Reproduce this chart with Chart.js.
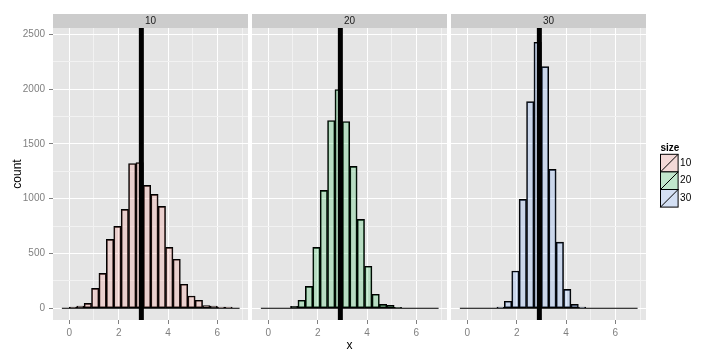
<!DOCTYPE html>
<html>
<head>
<meta charset="utf-8">
<script src="https://cdn.jsdelivr.net/npm/chart.js@4/dist/chart.umd.min.js"></script>
<style>
  body { margin: 0; background: #fff; }
  #wrap { position: relative; width: 720px; height: 360px; }
  #wrap canvas { position: absolute; top: 0; }
</style>
</head>
<body>
<div id="wrap">
  <canvas id="c10" width="248" height="360" style="left:0px"></canvas>
  <canvas id="c20" width="195" height="360" style="left:252px"></canvas>
  <canvas id="c30" width="269" height="360" style="left:451px"></canvas>
</div>
<script>
// Histogram data (binwidth 0.3)
const binCenters = [-0.15, 0.15, 0.45, 0.75, 1.05, 1.35, 1.65, 1.95, 2.25, 2.55, 2.85, 3.15,
                    3.45, 3.75, 4.05, 4.35, 4.65, 4.95, 5.25, 5.55, 5.85, 6.15, 6.45, 6.75];
const count10 = [0, 10, 20, 45, 182, 319, 629, 747, 902, 1321, 1330, 1121,
                 1039, 930, 556, 447, 219, 112, 73, 24, 21, 12, 12, 0];
const count20 = [0, 0, 0, 0, 18, 73, 200, 556, 1075, 1713, 1996, 1704,
                 1294, 811, 383, 128, 36, 27, 9, 0, 0, 0, 0, 0];
const count30 = [0, 0, 0, 0, 0, 12, 64, 340, 993, 1886, 2427, 2205,
                 1267, 604, 173, 36, 12, 0, 0, 0, 0, 0, 0, 0];
const sizes = ['10', '20', '30'];
const binRange = [-0.3, 6.9];
const meanX = 2.92;

// Axis ticks
const xTicks = [0, 1, 2, 3, 4, 5, 6, 7];
const xLabels = [0, 2, 4, 6];
const yTicks = [0, 250, 500, 750, 1000, 1250, 1500, 1750, 2000, 2250, 2500];
const yLabels = [0, 500, 1000, 1500, 2000, 2500];
const xMin = -0.66, xMax = 7.24;
const yMin = -107, yMax = 2557;

const fills = ['rgba(248,118,109,0.2)', 'rgba(0,186,56,0.2)', 'rgba(97,156,255,0.2)'];

Chart.defaults.font.family = "'Liberation Sans', Arial, sans-serif";
Chart.defaults.font.size = 10;

// Grey panel background + facet strip
const panelPlugin = {
    id: 'panel',
    beforeDraw(chart, args, opts) {
        const ctx = chart.ctx;
        const a = chart.chartArea;
        ctx.save();
        ctx.fillStyle = '#E5E5E5';
        ctx.fillRect(a.left, a.top, a.right - a.left, a.bottom - a.top);
        ctx.fillStyle = '#CCCCCC';
        ctx.fillRect(a.left, 14, a.right - a.left, a.top - 14);
        ctx.fillStyle = '#1A1A1A';
        ctx.font = "10px 'Liberation Sans', Arial, sans-serif";
        ctx.textAlign = 'center';
        ctx.textBaseline = 'middle';
        ctx.fillText(opts.label, (a.left + a.right) / 2, (14 + a.top) / 2 + 0.5);
        ctx.restore();
    }
};

// "size" legend drawn to the right of the last panel
const legendPlugin = {
    id: 'sizeLegend',
    afterDraw(chart) {
        const ctx = chart.ctx;
        const x = chart.chartArea.right + 14.5;
        const k = 17.6;
        let y = 154.3;
        ctx.save();
        ctx.fillStyle = '#000';
        ctx.font = "bold 10px 'Liberation Sans', Arial, sans-serif";
        ctx.textBaseline = 'middle';
        ctx.fillText('size', x, 148.5);
        ctx.font = "10px 'Liberation Sans', Arial, sans-serif";
        sizes.forEach((s, i) => {
            ctx.fillStyle = '#F2F2F2';
            ctx.fillRect(x, y, k, k);
            ctx.fillStyle = fills[i];
            ctx.fillRect(x, y, k, k);
            ctx.strokeStyle = '#000';
            ctx.lineWidth = 1;
            ctx.strokeRect(x, y, k, k);
            ctx.beginPath();
            ctx.moveTo(x, y + k);
            ctx.lineTo(x + k, y);
            ctx.stroke();
            ctx.fillStyle = '#000';
            ctx.fillText(s, x + k + 2, y + k / 2);
            y += k;
        });
        ctx.restore();
    }
};

function makePanel(id, idx, counts, first, middle, last) {
    const datasets = [
        {
            type: 'line',
            data: [{x: meanX, y: yMin}, {x: meanX, y: yMax}],
            borderColor: '#000',
            borderWidth: 5,
            pointRadius: 0,
            order: 0
        },
        {
            type: 'line',
            data: [{x: binRange[0], y: 0}, {x: binRange[1], y: 0}],
            borderColor: '#000',
            borderWidth: 1,
            pointRadius: 0,
            order: 1
        },
        {
            type: 'bar',
            data: binCenters.map((x, i) => ({x: x, y: counts[i]})),
            backgroundColor: fills[idx],
            borderColor: '#000',
            borderWidth: 1,
            borderSkipped: false,
            barPercentage: 1,
            categoryPercentage: 1,
            order: 2
        }
    ];

    new Chart(document.getElementById(id), {
        type: 'bar',
        data: {datasets: datasets},
        options: {
            responsive: false,
            animation: false,
            devicePixelRatio: 1,
            layout: {padding: {top: 28, bottom: 0, left: 0, right: last ? 74 : 0}},
            plugins: {
                legend: {display: false},
                tooltip: {enabled: false},
                panel: {label: sizes[idx]}
            },
            scales: {
                x: {
                    type: 'linear',
                    min: xMin,
                    max: xMax,
                    offset: false,
                    afterBuildTicks: s => { s.ticks = xTicks.map(v => ({value: v})); },
                    afterFit: s => { s.height = 40; },
                    border: {display: false},
                    grid: {
                        offset: false,
                        lineWidth: 1,
                        color: c => (c.tick && xLabels.includes(c.tick.value)) ? '#FFFFFF' : '#F2F2F2',
                        tickColor: c => (c.tick && xLabels.includes(c.tick.value)) ? '#7F7F7F' : 'rgba(0,0,0,0)',
                        tickLength: 4
                    },
                    ticks: {
                        color: '#7F7F7F',
                        padding: 3,
                        maxRotation: 0,
                        autoSkip: false,
                        callback: v => xLabels.includes(v) ? String(v) : ''
                    },
                    title: {
                        display: middle,
                        text: 'x',
                        color: '#000',
                        font: {size: 12},
                        padding: {top: 0, bottom: 7}
                    }
                },
                y: {
                    type: 'linear',
                    min: yMin,
                    max: yMax,
                    afterBuildTicks: s => { s.ticks = yTicks.map(v => ({value: v})); },
                    afterFit: s => { s.width = first ? 53 : 0; },
                    border: {display: false},
                    grid: {
                        lineWidth: 1,
                        drawTicks: first,
                        color: c => (c.tick && yLabels.includes(c.tick.value)) ? '#FFFFFF' : '#F2F2F2',
                        tickColor: c => (c.tick && yLabels.includes(c.tick.value)) ? '#7F7F7F' : 'rgba(0,0,0,0)',
                        tickLength: 4
                    },
                    ticks: {
                        display: first,
                        color: '#7F7F7F',
                        padding: 4,
                        autoSkip: false,
                        callback: v => yLabels.includes(v) ? String(v) : ''
                    },
                    title: {
                        display: first,
                        text: 'count',
                        color: '#000',
                        font: {size: 12},
                        padding: {top: 10, bottom: 0}
                    }
                }
            }
        },
        plugins: last ? [panelPlugin, legendPlugin] : [panelPlugin]
    });
}

makePanel('c10', 0, count10, true, false, false);
makePanel('c20', 1, count20, false, true, false);
makePanel('c30', 2, count30, false, false, true);
</script>
</body>
</html>
